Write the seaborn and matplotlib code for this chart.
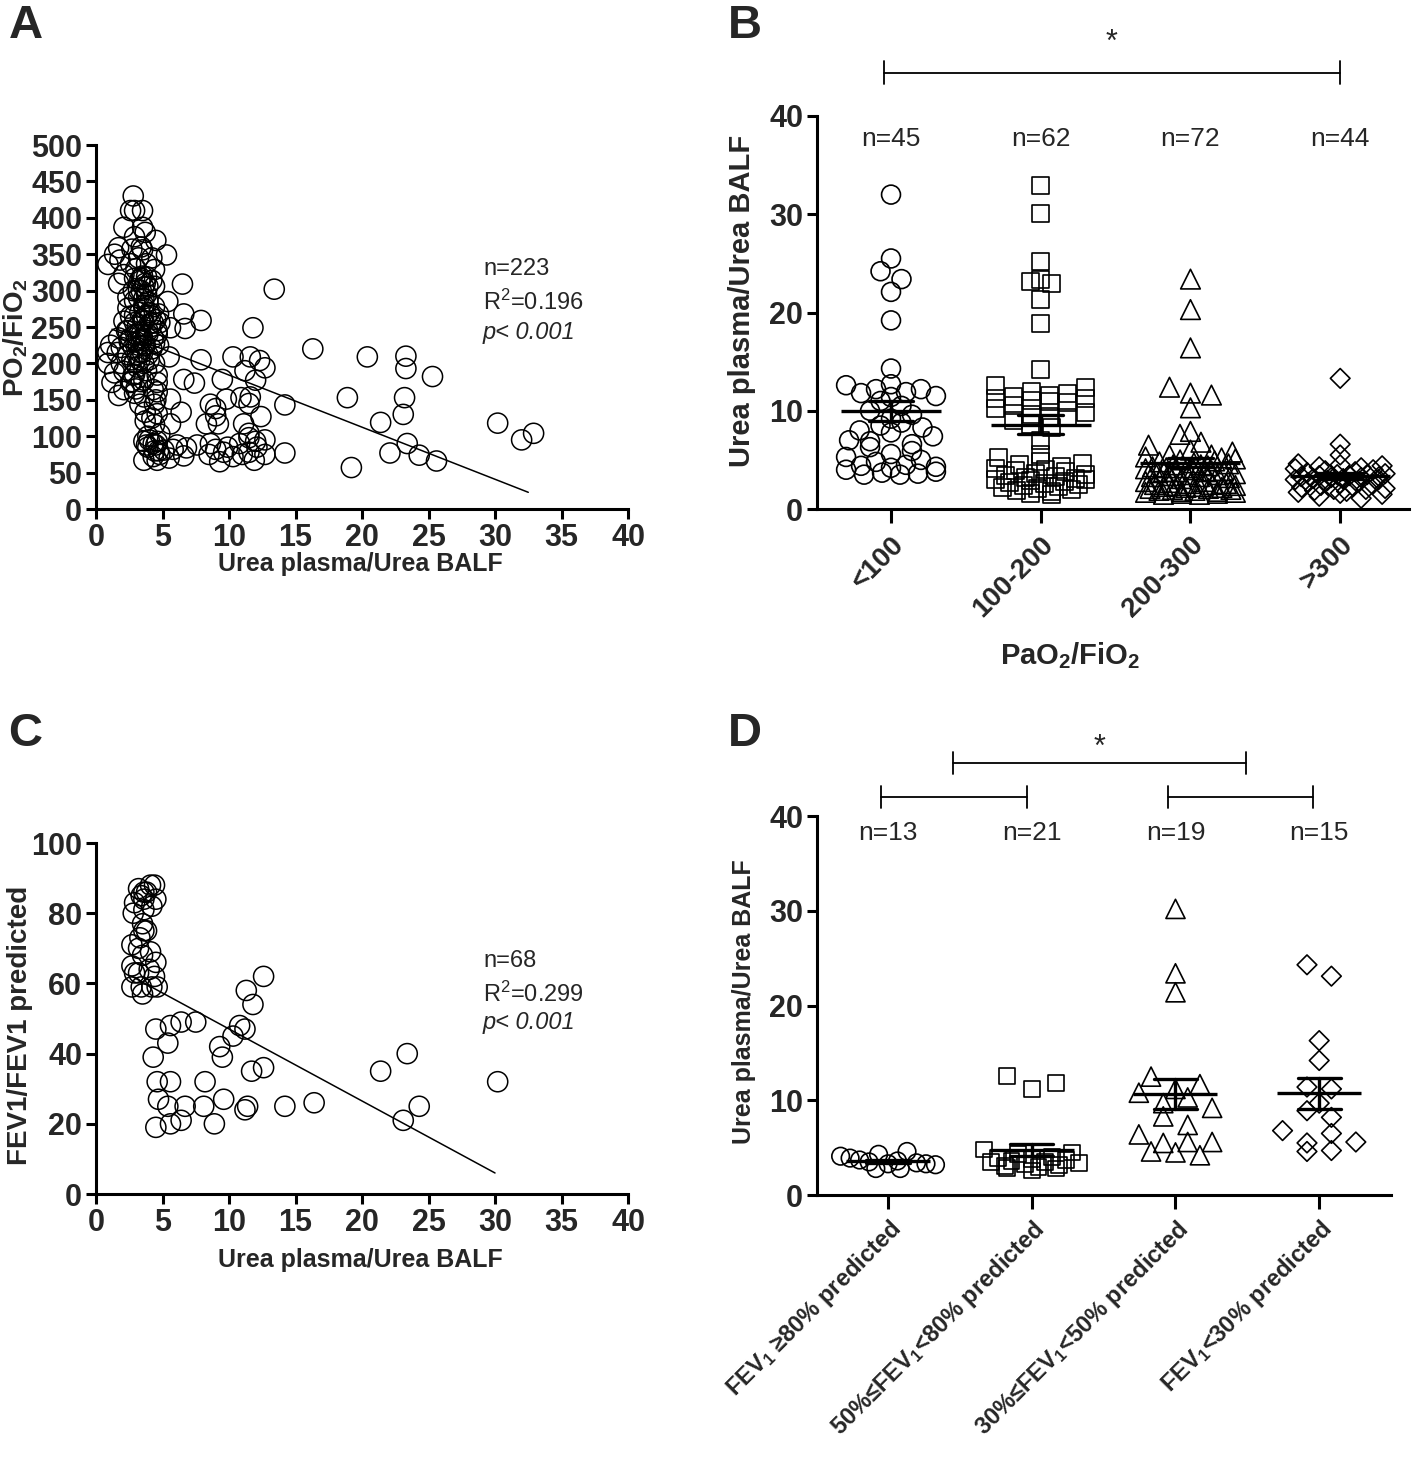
# =========================
# 1. IMPORT LIBRARIES
# =========================
import numpy as np
import pandas as pd

import matplotlib
matplotlib.use('Agg')

import matplotlib.pyplot as plt
import seaborn as sns

# =========================
# 2. DATA
# =========================
# A: PO2/FiO2 vs urea plasma/urea BALF (n=223)
a_urea = [13.4, 16.3, 20.4, 18.9, 21.4, 19.2, 22.1, 23.3, 23.3, 23.2,
          23.1, 23.4, 24.3, 25.3, 25.6, 30.2, 32.0, 32.9, 14.2, 14.2,
          5.3, 6.5, 5.4, 6.6, 6.7, 7.9, 5.6, 5.5, 6.6, 7.4,
          5.6, 6.4, 5.6, 7.9, 11.8, 10.3, 11.6, 12.3, 12.7, 11.2,
          12.0, 9.5, 8.6, 9.0, 9.8, 10.9, 11.6, 11.5, 12.4, 11.1,
          9.0, 9.2, 8.3, 12.0, 11.5, 12.7, 10.8, 11.5, 11.0, 10.3,
          9.6, 9.0, 9.3, 8.5, 7.6, 6.8, 6.6, 5.8, 11.9, 12.7,
          5.5, 6.1, 8.6, 9.9, 12.1, 11.5,
          2.8, 2.6, 2.9, 3.5, 2.1, 3.5, 2.9, 4.5, 1.7, 2.7,
          3.5, 1.4, 0.9, 1.8, 2.6, 3.8, 4.4, 1.7, 2.1, 2.9,
          3.4, 3.8, 4.2, 3.2, 3.9, 4.4, 2.4, 2.9, 3.6, 2.4,
          3.6, 4.4, 2.9, 4.1, 4.7, 2.1, 2.9, 3.6, 4.3, 4.8,
          2.4, 3.3, 3.9, 4.6, 1.7, 2.6, 3.4, 4.3, 1.1, 1.9,
          2.8, 3.6, 4.4, 0.9, 1.6, 2.4, 3.3, 3.9, 0.9, 1.9,
          2.9, 3.6, 1.4, 2.1, 2.8, 4.6, 1.2, 2.6, 3.6, 4.6,
          2.1, 2.9, 1.7, 4.3, 4.6, 3.6, 3.3, 4.4, 3.7, 4.6,
          3.7, 4.4, 4.8, 3.6, 3.9, 4.3, 4.4, 4.8, 3.6, 4.6,
          5.1, 4.3,
          3.0, 3.2, 3.4, 3.1, 3.5, 3.3, 3.6, 3.2, 3.4, 3.7,
          3.5, 3.3, 3.6, 3.8, 3.9, 4.0, 4.1, 3.9, 3.7, 3.5,
          3.3, 3.1, 2.9, 2.7, 3.0, 3.4, 3.8, 4.0, 4.2, 2.5,
          2.3, 2.6, 2.8, 3.0, 3.2, 3.4, 3.7, 4.2, 4.5, 4.6,
          4.7, 4.4, 4.5, 4.2, 3.9, 4.0, 4.5, 4.7, 3.8, 4.6,
          3.1, 3.5, 3.8, 2.7, 3.0]
a_pf = [302, 220, 209, 153, 119, 57, 77, 210, 193, 153,
        130, 90, 74, 182, 66, 118, 95, 104, 143, 77,
        349, 309, 285, 268, 248, 259, 249, 209, 178, 173,
        151, 133, 117, 205, 249, 209, 209, 204, 194, 190,
        177, 178, 144, 138, 151, 153, 154, 145, 127, 117,
        128, 117, 117, 93, 98, 95, 90, 78, 75, 72,
        78, 82, 65, 75, 88, 84, 73, 82, 67, 75,
        70, 88, 90, 85, 85, 104,
        430, 410, 410, 410, 387, 387, 374, 369, 359, 357,
        356, 350, 336, 342, 337, 337, 329, 310, 322, 317,
        317, 319, 314, 301, 306, 306, 291, 286, 289, 276,
        276, 278, 266, 266, 268, 258, 256, 258, 256, 256,
        245, 243, 245, 245, 235, 235, 233, 235, 225, 222,
        222, 225, 228, 215, 215, 212, 215, 212, 200, 200,
        202, 200, 187, 189, 184, 184, 174, 174, 177, 174,
        164, 159, 156, 164, 161, 154, 144, 144, 133, 131,
        121, 116, 103, 93, 85, 90, 80, 75, 67, 67,
        81, 72,
        230, 225, 240, 250, 260, 270, 280, 290, 300, 310,
        320, 315, 305, 295, 285, 270, 255, 240, 225, 215,
        205, 195, 185, 175, 165, 175, 190, 205, 220, 230,
        245, 265, 300, 330, 345, 360, 380, 345, 260, 240,
        225, 200, 150, 125, 100, 95, 88, 80, 88, 93,
        212, 235, 265, 205, 240]
a_fit_x = [1.2, 32.5]
a_fit_y = [247, 23]

# C: FEV1/FEV1 predicted vs urea plasma/urea BALF (n=68)
c_urea = [30.2, 23.4, 21.4, 24.3, 23.1, 16.4, 14.2, 12.6, 11.3, 11.8,
          12.6, 11.7, 11.2, 10.8, 10.3, 9.3, 9.5, 9.6, 8.9, 8.2,
          8.1, 11.4, 11.2, 7.5, 6.4, 5.6, 4.5, 5.4, 4.3, 4.6,
          5.6, 4.7, 5.4, 6.7, 6.4, 5.6, 4.5,
          2.7, 2.9, 3.5, 3.4, 4.6, 4.4, 4.5, 3.5, 4.1, 2.7,
          3.2, 3.6, 3.5, 3.8, 2.8, 2.9, 4.2, 4.5, 3.6, 3.2,
          4.1, 3.6, 3.4, 3.8, 4.4, 3.6, 4.2, 4.0, 3.2, 2.7,
          3.3]
c_fev = [32, 40, 35, 25, 21, 26, 25, 62, 58, 54,
         36, 35, 47, 48, 45, 42, 39, 27, 20, 32,
         25, 25, 24, 49, 49, 48, 47, 43, 39, 32,
         32, 27, 25, 25, 21, 20, 19,
         59, 63, 57, 59, 59, 62, 66, 68, 69, 71,
         70, 75, 77, 75, 80, 83, 82, 84, 84, 87,
         88, 86, 85, 86, 88, 81, 59, 64, 63, 65,
         73]
c_fit_x = [2.7, 30.0]
c_fit_y = [62, 6]

# B: urea ratio per PaO2/FiO2 class
b_labels = ['<100', '100-200', '200-300', '>300']
b_counts = ['n=45', 'n=62', 'n=72', 'n=44']
b_lt100 = [32.0, 25.5, 24.2, 23.4, 22.1, 19.2, 14.3, 12.7, 12.6, 12.2,
           12.2, 11.9, 11.8, 11.5, 11.4, 11.0, 8.0, 10.5, 7.0, 10.0,
           9.6, 9.2, 8.8, 8.5, 8.3, 7.8, 7.4, 6.9, 6.6, 6.3,
           5.9, 5.6, 5.3, 5.0, 4.8, 4.5, 4.4, 4.3, 4.2, 4.0,
           3.8, 3.7, 3.6, 3.5, 3.5]
b_100_200 = [32.9, 30.1, 25.2, 23.4, 23.2, 23.0, 21.3, 18.9, 14.2, 12.6,
             12.4, 12.0, 11.8, 11.5, 11.3, 11.2, 11.0, 10.8, 10.5, 10.2,
             9.8, 9.6, 9.3, 9.0, 8.6, 8.3, 11.6, 10.9, 9.4, 7.0,
             5.6, 5.2, 4.8, 4.6, 4.5, 4.3, 4.1, 4.0, 3.9, 3.8,
             3.6, 3.5, 3.4, 3.3, 3.2, 3.1, 3.0, 3.0, 2.9, 2.8,
             2.7, 2.6, 2.5, 2.4, 2.3, 2.2, 2.1, 2.0, 1.9, 1.8,
             1.6, 1.5]
b_200_300 = [23.4, 20.3, 16.4, 12.4, 11.6, 11.8, 10.3, 7.9, 7.6, 6.8,
             6.5, 6.0, 5.8, 5.5, 5.3, 5.1, 5.0, 4.9, 4.8, 4.7,
             4.6, 4.5, 4.4, 4.3, 4.2, 4.1, 5.2, 5.5, 3.9, 3.8,
             3.8, 3.7, 3.6, 3.5, 3.5, 3.4, 3.3, 3.3, 3.2, 3.1,
             4.2, 4.5, 3.9, 3.8, 2.8, 2.8, 4.0, 2.7, 2.6, 2.6,
             2.5, 2.5, 2.4, 2.4, 2.3, 2.3, 2.2, 2.2, 2.1, 2.1,
             2.0, 2.0, 1.9, 1.9, 1.8, 1.8, 1.7, 1.7, 1.6, 1.6,
             1.5, 1.5]
b_gt300 = [13.3, 6.6, 5.5, 4.6, 4.5, 4.4, 4.3, 4.2, 4.1, 4.0,
           3.9, 3.8, 3.7, 3.6, 3.5, 3.5, 3.4, 3.4, 3.3, 3.3,
           3.2, 3.2, 3.1, 3.1, 3.0, 3.0, 2.9, 2.8, 2.7, 2.6,
           2.5, 2.4, 2.3, 2.2, 2.1, 2.0, 2.0, 1.9, 1.8, 1.7,
           1.6, 1.5, 1.3, 1.1]

# D: urea ratio per FEV1 class
d_labels = ['FEV$_1$ \u226580% predicted', '50%\u2264FEV$_1$<80% predicted',
            '30%\u2264FEV$_1$<50% predicted', 'FEV$_1$<30% predicted']
d_counts = ['n=13', 'n=21', 'n=19', 'n=15']
d_ge80 = [4.1, 3.3, 3.2, 3.7, 4.6, 4.3, 2.8, 3.3, 2.8, 3.9, 3.6, 3.5, 3.4]
d_50_80 = [12.6, 11.8, 11.2, 4.8, 4.5, 4.3, 4.0, 3.9, 3.8, 3.7,
           3.6, 3.5, 3.5, 3.4, 3.3, 3.2, 3.1, 3.0, 2.9, 2.8, 2.6]
d_30_50 = [30.2, 23.4, 21.4, 12.5, 11.7, 11.2, 10.8, 10.3, 9.7, 9.2,
           8.3, 7.4, 6.4, 5.6, 5.5, 5.6, 4.6, 4.2, 4.5]
d_lt30 = [24.3, 23.1, 16.3, 14.2, 11.4, 11.2, 9.7, 8.9, 8.2, 6.8,
          6.5, 5.5, 5.6, 4.6, 4.7]

# significance brackets: (left group, right group, height)
b_brackets = [(-0.05, 3.0, 44.4)]
d_brackets = [(-0.05, 0.97, 42.0), (1.95, 2.96, 42.0), (0.45, 2.49, 45.6)]

# =========================
# 3. STYLE
# =========================
sns.set_style('ticks')
plt.rcParams['font.family'] = ['Liberation Sans', 'DejaVu Sans']
plt.rcParams['font.weight'] = 'bold'
plt.rcParams['axes.labelweight'] = 'bold'
plt.rcParams['mathtext.default'] = 'regular'
TICK_FONT = ['Liberation Sans Narrow', 'Liberation Sans', 'DejaVu Sans']


def style_axes(ax):
    sns.despine(ax=ax)
    for side in ['left', 'bottom']:
        ax.spines[side].set_linewidth(2.2)
        ax.spines[side].set_color('black')
    ax.tick_params(width=2.2, length=7, color='black', labelsize=22,
                   labelfontfamily=TICK_FONT, pad=3)


def hollow(ax):
    pts = ax.collections[-1]
    pts.set_facecolor('none')
    pts.set_edgecolor('black')


def spread(values, row_h, step, max_half):
    # GraphPad-like column scatter: points sharing a row are laid side by side,
    # slots handed out in a golden-ratio order so rows don't look like ramps
    v = np.asarray(values, dtype=float)
    rows = np.round(v / row_h)
    off = np.zeros(len(v))
    for r in np.unique(rows):
        idx = np.where(rows == r)[0]
        k = len(idx)
        if k > 1:
            gap = min(step, 2 * max_half / (k - 1))
            slots = (np.arange(k) - (k - 1) / 2) * gap
            order = np.argsort((np.arange(k) * 0.618) % 1)
            off[idx] = slots[order]
    return off


def dot_panel(ax, groups, markers, sizes, mean_w, row_h, step, max_half):
    for i, vals in enumerate(groups):
        pos = i + spread(vals, row_h, step, max_half)
        sns.scatterplot(x=pos, y=vals, marker=markers[i], s=sizes[i],
                        color='black', linewidth=1.2, ax=ax)
        hollow(ax)
    long = pd.DataFrame({
        'pos': np.repeat(np.arange(len(groups)), [len(g) for g in groups]),
        'val': np.concatenate(groups),
    })
    sns.pointplot(data=long, x='pos', y='val', native_scale=True,
                  errorbar='se', capsize=0.3, linestyle='none', marker='_',
                  markersize=mean_w, markeredgewidth=2.4, color='black',
                  err_kws={'linewidth': 2.4}, ax=ax)


def brackets(ax, items, tick_h):
    for x0, x1, h in items:
        sns.lineplot(x=[x0, x1], y=[h, h], color='black', lw=1.3, ax=ax,
                     estimator=None, sort=False, clip_on=False)
        for xe in (x0, x1):
            sns.lineplot(x=[xe, xe], y=[h - tick_h, h + tick_h], color='black',
                         lw=1.3, ax=ax, estimator=None, sort=False, clip_on=False)


# =========================
# 4. FIGURE
# =========================
fig = plt.figure(figsize=(14.18, 14.59), dpi=100)
ax_a = fig.add_axes([0.0677, 0.6511, 0.3752, 0.2495])
ax_b = fig.add_axes([0.5762, 0.6511, 0.4175, 0.2694])
ax_c = fig.add_axes([0.0677, 0.1816, 0.3752, 0.2406])
ax_d = fig.add_axes([0.5762, 0.1809, 0.4048, 0.2598])

# ---- A ----
sns.scatterplot(x=a_urea, y=a_pf, marker='o', s=210, color='black',
                linewidth=1.1, ax=ax_a)
hollow(ax_a)
sns.lineplot(x=a_fit_x, y=a_fit_y, color='black', lw=1.1, ax=ax_a)
ax_a.set_xlim(0, 40)
ax_a.set_ylim(0, 500)
ax_a.set_xticks(range(0, 41, 5))
ax_a.set_yticks(range(0, 501, 50))
style_axes(ax_a)
ax_a.set_xlabel('Urea plasma/Urea BALF', fontsize=18)
ax_a.set_ylabel('PO$_2$/FiO$_2$', fontsize=20)
ax_a.xaxis.set_label_coords(0.496, -0.118)
ax_a.yaxis.set_label_coords(-0.124, 0.47)
ax_a.text(29.1, 330, 'n=223', fontsize=17, fontweight='normal', va='center')
ax_a.text(29.1, 284, 'R$^2$=0.196', fontsize=17, fontweight='normal', va='center')
ax_a.text(29.1, 242, 'p< 0.001', fontsize=17, fontweight='normal',
          style='italic', va='center')

# ---- C ----
sns.scatterplot(x=c_urea, y=c_fev, marker='o', s=210, color='black',
                linewidth=1.1, ax=ax_c)
hollow(ax_c)
sns.lineplot(x=c_fit_x, y=c_fit_y, color='black', lw=1.1, ax=ax_c)
ax_c.set_xlim(0, 40)
ax_c.set_ylim(0, 100)
ax_c.set_xticks(range(0, 41, 5))
ax_c.set_yticks(range(0, 101, 20))
style_axes(ax_c)
ax_c.set_xlabel('Urea plasma/Urea BALF', fontsize=18)
ax_c.set_ylabel('FEV1/FEV1 predicted', fontsize=20)
ax_c.xaxis.set_label_coords(0.496, -0.154)
ax_c.yaxis.set_label_coords(-0.118, 0.48)
ax_c.text(29.1, 66.5, 'n=68', fontsize=17, fontweight='normal', va='center')
ax_c.text(29.1, 57, 'R$^2$=0.299', fontsize=17, fontweight='normal', va='center')
ax_c.text(29.1, 49, 'p< 0.001', fontsize=17, fontweight='normal',
          style='italic', va='center')

# ---- B ----
dot_panel(ax_b, [b_lt100, b_100_200, b_200_300, b_gt300],
          ['o', 's', '^', 'D'], [185, 150, 200, 100], 72,
          row_h=1.2, step=0.14, max_half=0.3)
ax_b.set_xlim(-0.494, 3.46)
ax_b.set_ylim(0, 40)
ax_b.set_yticks(range(0, 41, 10))
ax_b.set_xticks(range(4))
style_axes(ax_b)
ax_b.set_xticklabels(b_labels, rotation=45, ha='right', rotation_mode='anchor',
                     fontsize=20, fontfamily='Liberation Sans')
ax_b.tick_params(axis='x', length=10, pad=6)
ax_b.set_xlabel('PaO$_2$/FiO$_2$', fontsize=21)
ax_b.set_ylabel('Urea plasma/Urea BALF', fontsize=21)
ax_b.xaxis.set_label_coords(0.427, -0.333)
ax_b.yaxis.set_label_coords(-0.103, 0.53)
for i, lab in enumerate(b_counts):
    ax_b.text(i, 37.7, lab, fontsize=19, fontweight='normal',
              ha='center', va='center')
brackets(ax_b, b_brackets, 1.16)
ax_b.text(1.47, 47.4, '*', fontsize=22, fontweight='normal',
          ha='center', va='center')

# ---- D ----
dot_panel(ax_d, [d_ge80, d_50_80, d_30_50, d_lt30],
          ['o', 's', '^', 'D'], [160, 130, 190, 100], 60,
          row_h=2.0, step=0.17, max_half=0.33)
ax_d.set_xlim(-0.494, 3.50)
ax_d.set_ylim(0, 40)
ax_d.set_yticks(range(0, 41, 10))
ax_d.set_xticks(range(4))
style_axes(ax_d)
ax_d.set_xticklabels(d_labels, rotation=45, ha='right', rotation_mode='anchor',
                     fontsize=17, fontfamily='Liberation Sans')
ax_d.tick_params(axis='x', length=10, pad=5)
ax_d.set_xlabel('')
ax_d.set_ylabel('Urea plasma/Urea BALF', fontsize=18)
ax_d.yaxis.set_label_coords(-0.106, 0.51)
for i, lab in enumerate(d_counts):
    ax_d.text(i, 38.2, lab, fontsize=19, fontweight='normal',
              ha='center', va='center')
brackets(ax_d, d_brackets, 1.2)
ax_d.text(1.47, 47.2, '*', fontsize=22, fontweight='normal',
          ha='center', va='center')

# ---- panel letters ----
for x, y, letter in [(0.006, 0.997, 'A'), (0.513, 0.997, 'B'),
                     (0.006, 0.512, 'C'), (0.513, 0.512, 'D')]:
    fig.text(x, y, letter, fontsize=34, fontweight='bold', va='top')

fig.savefig('out.png', dpi=100)
plt.close()
